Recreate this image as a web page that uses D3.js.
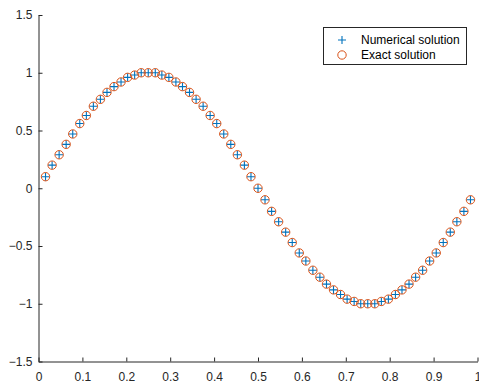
<!DOCTYPE html>
<html>
<head>
<meta charset="utf-8">
<script src="https://cdn.jsdelivr.net/npm/d3@7"></script>
<style>
  body { margin: 0; background: #fff; }
  svg { display: block; font-family: "Liberation Sans", Arial, sans-serif; }
</style>
</head>
<body>
<svg id="chart" width="479" height="387"></svg>
<script>
// sample positions
const xValues = [
  0.016, 0.031, 0.047, 0.063, 0.078, 0.094, 0.109, 0.125, 0.141, 0.156, 0.172, 0.188, 0.203, 0.219, 0.234, 0.25,
  0.266, 0.281, 0.297, 0.313, 0.328, 0.344, 0.359, 0.375, 0.391, 0.406, 0.422, 0.438, 0.453, 0.469, 0.484, 0.5,
  0.516, 0.531, 0.547, 0.563, 0.578, 0.594, 0.609, 0.625, 0.641, 0.656, 0.672, 0.688, 0.703, 0.719, 0.734, 0.75,
  0.766, 0.781, 0.797, 0.813, 0.828, 0.844, 0.859, 0.875, 0.891, 0.906, 0.922, 0.938, 0.953, 0.969, 0.984
];
const numericalValues = [
  0.10, 0.20, 0.29, 0.38, 0.47, 0.56, 0.63, 0.71, 0.77, 0.83, 0.88, 0.92, 0.96, 0.98, 1.00, 1.00,
  1.00, 0.98, 0.96, 0.92, 0.88, 0.83, 0.77, 0.71, 0.63, 0.56, 0.47, 0.38, 0.29, 0.20, 0.10, 0.00,
  -0.10, -0.20, -0.29, -0.38, -0.47, -0.56, -0.63, -0.71, -0.77, -0.83, -0.88, -0.92, -0.96, -0.98, -1.00, -1.00,
  -1.00, -0.98, -0.96, -0.92, -0.88, -0.83, -0.77, -0.71, -0.63, -0.56, -0.47, -0.38, -0.29, -0.20, -0.10
];
const exactValues = [
  0.10, 0.20, 0.29, 0.38, 0.47, 0.56, 0.63, 0.71, 0.77, 0.83, 0.88, 0.92, 0.96, 0.98, 1.00, 1.00,
  1.00, 0.98, 0.96, 0.92, 0.88, 0.83, 0.77, 0.71, 0.63, 0.56, 0.47, 0.38, 0.29, 0.20, 0.10, 0.00,
  -0.10, -0.20, -0.29, -0.38, -0.47, -0.56, -0.63, -0.71, -0.77, -0.83, -0.88, -0.92, -0.96, -0.98, -1.00, -1.00,
  -1.00, -0.98, -0.96, -0.92, -0.88, -0.83, -0.77, -0.71, -0.63, -0.56, -0.47, -0.38, -0.29, -0.20, -0.10
];
const xTicks = [0, 0.1, 0.2, 0.3, 0.4, 0.5, 0.6, 0.7, 0.8, 0.9, 1];
const yTicks = [-1.5, -1, -0.5, 0, 0.5, 1, 1.5];
const legendLabels = ['Numerical solution', 'Exact solution'];

const blue = '#0072BD';
const orange = '#D95319';
const axisColor = '#262626';

const svg = d3.select('#chart');
const plotLeft = 38.5, plotRight = 477.5, plotTop = 15, plotBottom = 361.5;

const x = d3.scaleLinear().domain([0, 1]).range([plotLeft, plotRight]);
const y = d3.scaleLinear().domain([-1.5, 1.5]).range([plotBottom, plotTop]);

// x axis (ticks point inward, like MATLAB)
const xAxis = svg.append('g')
  .attr('transform', `translate(0,${plotBottom})`)
  .call(d3.axisBottom(x).tickValues(xTicks).tickFormat(d3.format('')).tickSizeInner(-4).tickSizeOuter(0).tickPadding(11));

// y axis
const yAxis = svg.append('g')
  .attr('transform', `translate(${plotLeft},0)`)
  .call(d3.axisLeft(y).tickValues(yTicks).tickFormat(d3.format('')).tickSizeInner(-4).tickSizeOuter(0).tickPadding(6));

[xAxis, yAxis].forEach(g => {
  g.select('.domain').attr('stroke', axisColor).attr('stroke-width', 1);
  g.selectAll('.tick line').attr('stroke', axisColor);
  g.selectAll('.tick text').attr('fill', axisColor).style('font-size', '12px');
});

const points = xValues.map((xv, i) => ({ x: xv, num: numericalValues[i], exact: exactValues[i] }));

function plusPath(size) {
  const h = size / 2;
  return `M${-h},0H${h}M0,${-h}V${h}`;
}

// numerical solution: plus markers
svg.append('g').selectAll('path')
  .data(points)
  .enter()
  .append('path')
  .attr('d', plusPath(8))
  .attr('transform', d => `translate(${x(d.x)},${y(d.num)})`)
  .attr('stroke', blue)
  .attr('stroke-width', 1.1)
  .attr('fill', 'none');

// exact solution: open circles
svg.append('g').selectAll('circle')
  .data(points)
  .enter()
  .append('circle')
  .attr('cx', d => x(d.x))
  .attr('cy', d => y(d.exact))
  .attr('r', 4.2)
  .attr('stroke', orange)
  .attr('stroke-width', 1)
  .attr('fill', 'none');

// legend
const legend = svg.append('g');
legend.append('rect')
  .attr('x', 323.5).attr('y', 27.5)
  .attr('width', 143).attr('height', 37)
  .attr('fill', '#fff')
  .attr('stroke', axisColor)
  .attr('stroke-width', 1);

legend.append('path')
  .attr('d', plusPath(8))
  .attr('transform', 'translate(342,40)')
  .attr('stroke', blue)
  .attr('stroke-width', 1.1);
legend.append('circle')
  .attr('cx', 342).attr('cy', 55).attr('r', 4.2)
  .attr('stroke', orange).attr('fill', 'none');

legend.selectAll('text')
  .data(legendLabels)
  .enter()
  .append('text')
  .attr('x', 361)
  .attr('y', (d, i) => 40 + i * 15)
  .attr('dy', '0.35em')
  .attr('fill', '#000')
  .style('font-size', '12px')
  .text(d => d);
</script>
</body>
</html>
